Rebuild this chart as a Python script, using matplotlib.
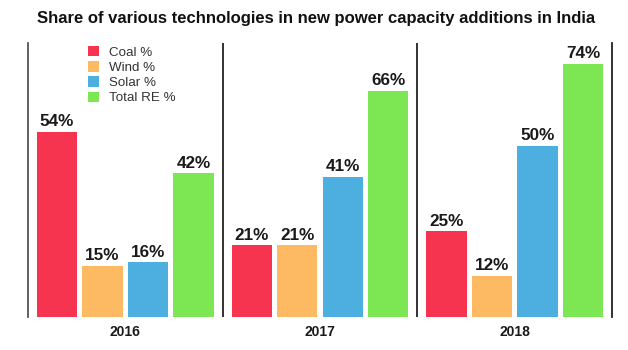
import matplotlib
matplotlib.use("Agg")
import matplotlib.pyplot as plt
from matplotlib.patches import Patch
import numpy as np

years = ["2016", "2017", "2018"]
series = ["Coal %", "Wind %", "Solar %", "Total RE %"]
coal = [54, 21, 25]
wind = [15, 21, 12]
solar = [16, 41, 50]
total_re = [42, 66, 74]
colors = ["#F6344F", "#FDBA62", "#4DAFE0", "#7DE653"]

plt.rcParams['font.family'] = ['Liberation Sans', 'DejaVu Sans']

fig = plt.figure(figsize=(6.28, 3.5), dpi=100)
ax = fig.add_axes([28/628, 33/350, 584/628, 274/350])

x = np.arange(len(years))
width = 0.208
step = 0.2337
data = [coal, wind, solar, total_re]
for i, (vals, col) in enumerate(zip(data, colors)):
    pos = x + (i - 1.5) * step
    ax.bar(pos, vals, width=width, color=col, label=series[i])
    for px, v in zip(pos, vals):
        ax.annotate(f"{v}%", (px, v), xytext=(0, 4.0), textcoords="offset points",
                    ha="center", va="baseline", fontsize=12.3, fontweight="bold",
                    color="#1a1a1a")

ax.set_xlim(-0.5, 2.5)
ax.set_ylim(0, 80)
for s in ["top", "bottom"]:
    ax.spines[s].set_visible(False)
ax.spines["left"].set_color("#555555")
ax.spines["right"].set_color("#222222")
ax.spines["left"].set_linewidth(1.3)
ax.spines["right"].set_linewidth(1.3)
for xv in [0.5, 1.5]:
    ax.axvline(xv, color="#222222", linewidth=1.3)
ax.set_yticks([])
ax.set_xticks(x)
ax.set_xticklabels(years, fontsize=10, fontweight="bold", color="#1a1a1a")
ax.tick_params(axis="x", length=0, pad=6)

handles = [Patch(facecolor=c, edgecolor="none") for c in colors]
leg = ax.legend(handles, series, loc="upper left", bbox_to_anchor=(60/584, 1 - 3/274),
                frameon=False, fontsize=9.6, handlelength=0.82, handleheight=0.82,
                handletextpad=0.75, labelspacing=0.18, borderpad=0, borderaxespad=0)
for t in leg.get_texts():
    t.set_color("#333333")

fig.text(316/628, 1 - 19/350, "Share of various technologies in new power capacity additions in India",
         ha="center", va="center", fontsize=12, fontweight="bold", color="#111111")

fig.savefig("out.png", dpi=100, facecolor="white")
